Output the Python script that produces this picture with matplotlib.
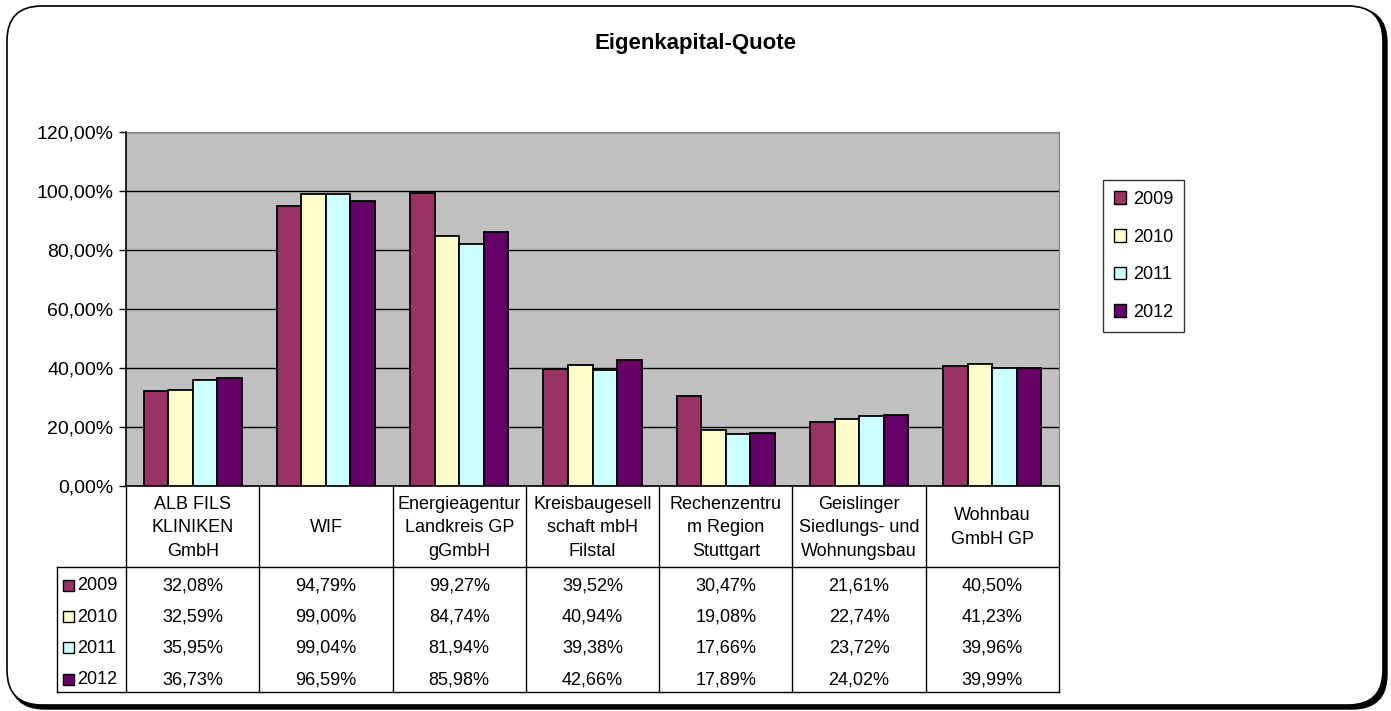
import matplotlib.pyplot as plt
from matplotlib.patches import FancyBboxPatch, Rectangle, Patch
from matplotlib.lines import Line2D

plt.rcParams['font.family'] = ['Liberation Sans', 'DejaVu Sans']

# data
categories = ["ALB FILS\nKLINIKEN\nGmbH", "WIF", "Energieagentur\nLandkreis GP\ngGmbH",
              "Kreisbaugesell\nschaft mbH\nFilstal", "Rechenzentru\nm Region\nStuttgart",
              "Geislinger\nSiedlungs- und\nWohnungsbau", "Wohnbau\nGmbH GP"]
years = ["2009", "2010", "2011", "2012"]
v2009 = [32.08, 94.79, 99.27, 39.52, 30.47, 21.61, 40.50]
v2010 = [32.59, 99.00, 84.74, 40.94, 19.08, 22.74, 41.23]
v2011 = [35.95, 99.04, 81.94, 39.38, 17.66, 23.72, 39.96]
v2012 = [36.73, 96.59, 85.98, 42.66, 17.89, 24.02, 39.99]
series = [v2009, v2010, v2011, v2012]
colors = ["#993366", "#FFFFCC", "#CCFFFF", "#660066"]
yticks = [0, 20, 40, 60, 80, 100, 120]

W, H = 1391, 711
fig = plt.figure(figsize=(W / 100, H / 100), dpi=100)

# outer rounded frame with shadow
shadow = FancyBboxPatch((10 / W, 2 / H), 1377 / W, 701 / H, boxstyle="round,pad=0,rounding_size=0.025",
                        transform=fig.transFigure, facecolor="black", edgecolor="black", zorder=-2,
                        mutation_aspect=W / H)
frame = FancyBboxPatch((7 / W, 6 / H), 1376 / W, 699 / H, boxstyle="round,pad=0,rounding_size=0.025",
                       transform=fig.transFigure, facecolor="white", edgecolor="black", lw=1.2, zorder=-1,
                       mutation_aspect=W / H)
fig.patches.extend([shadow, frame])

fig.text(696 / W, 1 - 44 / H, "Eigenkapital-Quote", ha="center", va="center", fontsize=16, fontweight="bold")

x0, x1 = 126, 1059
ytop, y0 = 131.7, 486
ax = fig.add_axes([x0 / W, 1 - y0 / H, (x1 - x0) / W, (y0 - ytop) / H])
ax.set_facecolor("#C0C0C0")
n = len(categories)
bw = 0.184
for j, (vals, c) in enumerate(zip(series, colors)):
    xs = [i + (j - 1.5) * bw for i in range(n)]
    ax.bar(xs, vals, width=bw, color=c, edgecolor="black", linewidth=1.3, zorder=3)
ax.set_xlim(-0.5, n - 0.5)
ax.set_ylim(0, 120)
ax.set_yticks(yticks)
ax.set_yticklabels([f"{t:.2f}%".replace(".", ",") for t in yticks], fontsize=14)
ax.yaxis.grid(True, color="black", linewidth=1)
ax.set_axisbelow(True)
ax.set_xticks([])
ax.tick_params(axis="y", length=5, width=1, pad=4)
for s in ["top", "right"]:
    ax.spines[s].set_color("#808080")
for s in ["left", "bottom"]:
    ax.spines[s].set_color("black")
    ax.spines[s].set_linewidth(1.2)

# data table below the plot
tb = 692.3
tax = fig.add_axes([x0 / W, 1 - tb / H, (x1 - x0) / W, (tb - y0) / H])
tax.set_xlim(-0.5, n - 0.5)
tax.set_ylim(tb - y0, 0)
tax.axis("off")
hdr = 81.3
rowh = (tb - y0 - hdr) / 4
lab_left = -0.5 - (x0 - 57) / ((x1 - x0) / n)
lk = dict(color="black", lw=1, clip_on=False)
for i in range(n + 1):
    tax.add_line(Line2D([i - 0.5, i - 0.5], [0, tb - y0], **lk))
tax.add_line(Line2D([lab_left, n - 0.5], [hdr, hdr], **lk))
tax.add_line(Line2D([lab_left, n - 0.5], [tb - y0, tb - y0], **lk))
tax.add_line(Line2D([lab_left, lab_left], [hdr, tb - y0], **lk))
for i, cat in enumerate(categories):
    tax.text(i, hdr / 2 + 1, cat, ha="center", va="center", fontsize=13, linespacing=1.5, clip_on=False)
upx = (x1 - x0) / n
for r, (yr, vals, c) in enumerate(zip(years, series, colors)):
    yc = hdr + rowh * (r + 0.5) + 2
    tax.add_patch(Rectangle((lab_left + 6 / upx, yc - 5), 11 / upx, 11, facecolor=c,
                            edgecolor="black", lw=1, clip_on=False))
    tax.text(lab_left + 20 / upx, yc + 1, yr, ha="left", va="center", fontsize=13, clip_on=False)
    for i, v in enumerate(vals):
        tax.text(i, yc + 1, f"{v:.2f}%".replace(".", ","), ha="center", va="center", fontsize=13)

handles = [Patch(facecolor=c, edgecolor="black", lw=1) for c in colors]
leg = fig.legend(handles, years, loc="upper left", bbox_to_anchor=(1103 / W, 1 - 180 / H),
                 fontsize=13, frameon=True, fancybox=False, edgecolor="black", handlelength=0.7,
                 handleheight=0.7, handletextpad=0.35, labelspacing=1.15, borderpad=0.6, borderaxespad=0)
leg.get_frame().set_linewidth(1)

plt.savefig("out.png", dpi=100)
